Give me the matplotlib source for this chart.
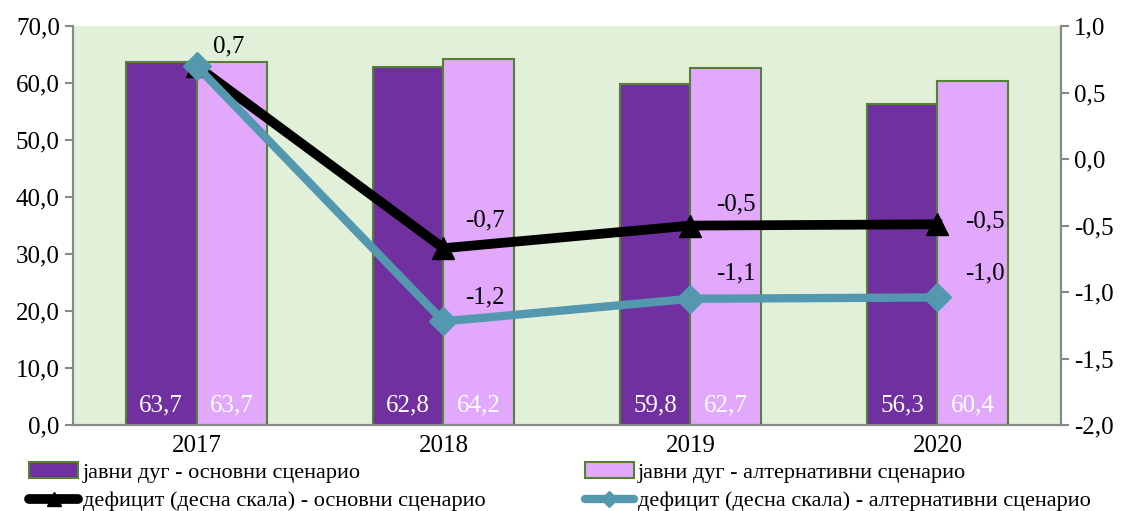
import numpy as np
import matplotlib.pyplot as plt
from matplotlib.patches import Patch
from matplotlib.lines import Line2D

plt.rcParams['font.family'] = ['Liberation Serif', 'DejaVu Serif']

years = ['2017', '2018', '2019', '2020']
debt_base = [63.7, 62.8, 59.8, 56.3]
debt_alt = [63.7, 64.2, 62.7, 60.4]
deficit_base = [0.7, -0.67, -0.5, -0.49]
deficit_alt = [0.7, -1.22, -1.05, -1.04]
deficit_base_labels = ['0,7', '-0,7', '-0,5', '-0,5']
deficit_alt_labels = ['', '-1,2', '-1,1', '-1,0']

c_dark = '#7030A0'
c_light = '#E2A8FC'
c_edge = '#548235'
c_teal = '#5398AE'
c_bg = '#E2EFD9'
fs = 18

fig = plt.figure(figsize=(11.29, 5.11), dpi=100)
ax = fig.add_axes([0.0647, 0.168, 0.875, 0.781])
ax.set_facecolor(c_bg)

x = np.arange(len(years))
w = 0.287
ax.bar(x - w / 2, debt_base, w, color=c_dark, edgecolor=c_edge, linewidth=1.5, zorder=2)
ax.bar(x + w / 2, debt_alt, w, color=c_light, edgecolor=c_edge, linewidth=1.5, zorder=2)

for i in range(len(years)):
    ax.text(x[i] - w / 2, 3.5, f'{debt_base[i]:.1f}'.replace('.', ','), ha='center', va='center',
            color='white', fontsize=fs)
    ax.text(x[i] + w / 2, 3.5, f'{debt_alt[i]:.1f}'.replace('.', ','), ha='center', va='center',
            color='white', fontsize=fs)

ax.set_xlim(-0.5, 3.5)
ax.set_ylim(0, 70)
ax.set_yticks(np.arange(0, 71, 10))
ax.set_yticklabels([f'{v:.1f}'.replace('.', ',') for v in np.arange(0, 71, 10)])
ax.set_xticks(x)
ax.set_xticklabels(years)
ax.tick_params(axis='x', length=0, labelsize=fs, pad=7)
ax.tick_params(axis='y', labelsize=fs, color='#888888', length=6, width=1.5)

ax2 = ax.twinx()
ax2.set_ylim(-2, 1)
yt = np.arange(-2, 1.01, 0.5)
ax2.set_yticks(yt)
ax2.set_yticklabels([f'{v:.1f}'.replace('.', ',') for v in yt])
ax2.tick_params(axis='y', labelsize=fs, color='#888888', length=6, width=1.5)

ax2.plot(x, deficit_base, color='black', lw=7, marker='^', ms=16, zorder=3)
ax2.plot(x, deficit_alt, color=c_teal, lw=6, marker='D', ms=14, zorder=4)

base_off = [(23, 14), (30, 20), (33, 15), (34, 2)]
alt_off = [(0, 0), (30, 17), (33, 18), (34, 17)]
for i in range(len(years)):
    ax2.annotate(deficit_base_labels[i], (x[i], deficit_base[i]), xytext=base_off[i],
                 textcoords='offset points', ha='center', va='center', fontsize=fs, zorder=5)
    if deficit_alt_labels[i]:
        ax2.annotate(deficit_alt_labels[i], (x[i], deficit_alt[i]), xytext=alt_off[i],
                     textcoords='offset points', ha='center', va='center', fontsize=fs, zorder=5)

for a in (ax, ax2):
    a.spines['top'].set_visible(False)
    for s in ('left', 'right', 'bottom'):
        a.spines[s].set_color('#888888')
        a.spines[s].set_linewidth(1.5)

h1 = Patch(facecolor=c_dark, edgecolor=c_edge, linewidth=1.5)
h2 = Patch(facecolor=c_light, edgecolor=c_edge, linewidth=1.5)
h3 = Line2D([], [], color='black', lw=7, marker='^', ms=10, solid_capstyle='round')
h4 = Line2D([], [], color=c_teal, lw=6, marker='D', ms=8, solid_capstyle='round')

kw = dict(frameon=False, fontsize=16, handlelength=2.2, handletextpad=0.2,
          labelspacing=0.35, borderaxespad=0, borderpad=0)
fig.legend([h1, h3], ['јавни дуг - основни сценарио', 'дефицит (десна скала) - основни сценарио'],
           loc='upper left', bbox_to_anchor=(0.026, 0.095), **kw)
fig.legend([h2, h4], ['јавни дуг - алтернативни сценарио', 'дефицит (десна скала) - алтернативни сценарио'],
           loc='upper left', bbox_to_anchor=(0.518, 0.095), **kw)

fig.savefig('out.png', dpi=100)
